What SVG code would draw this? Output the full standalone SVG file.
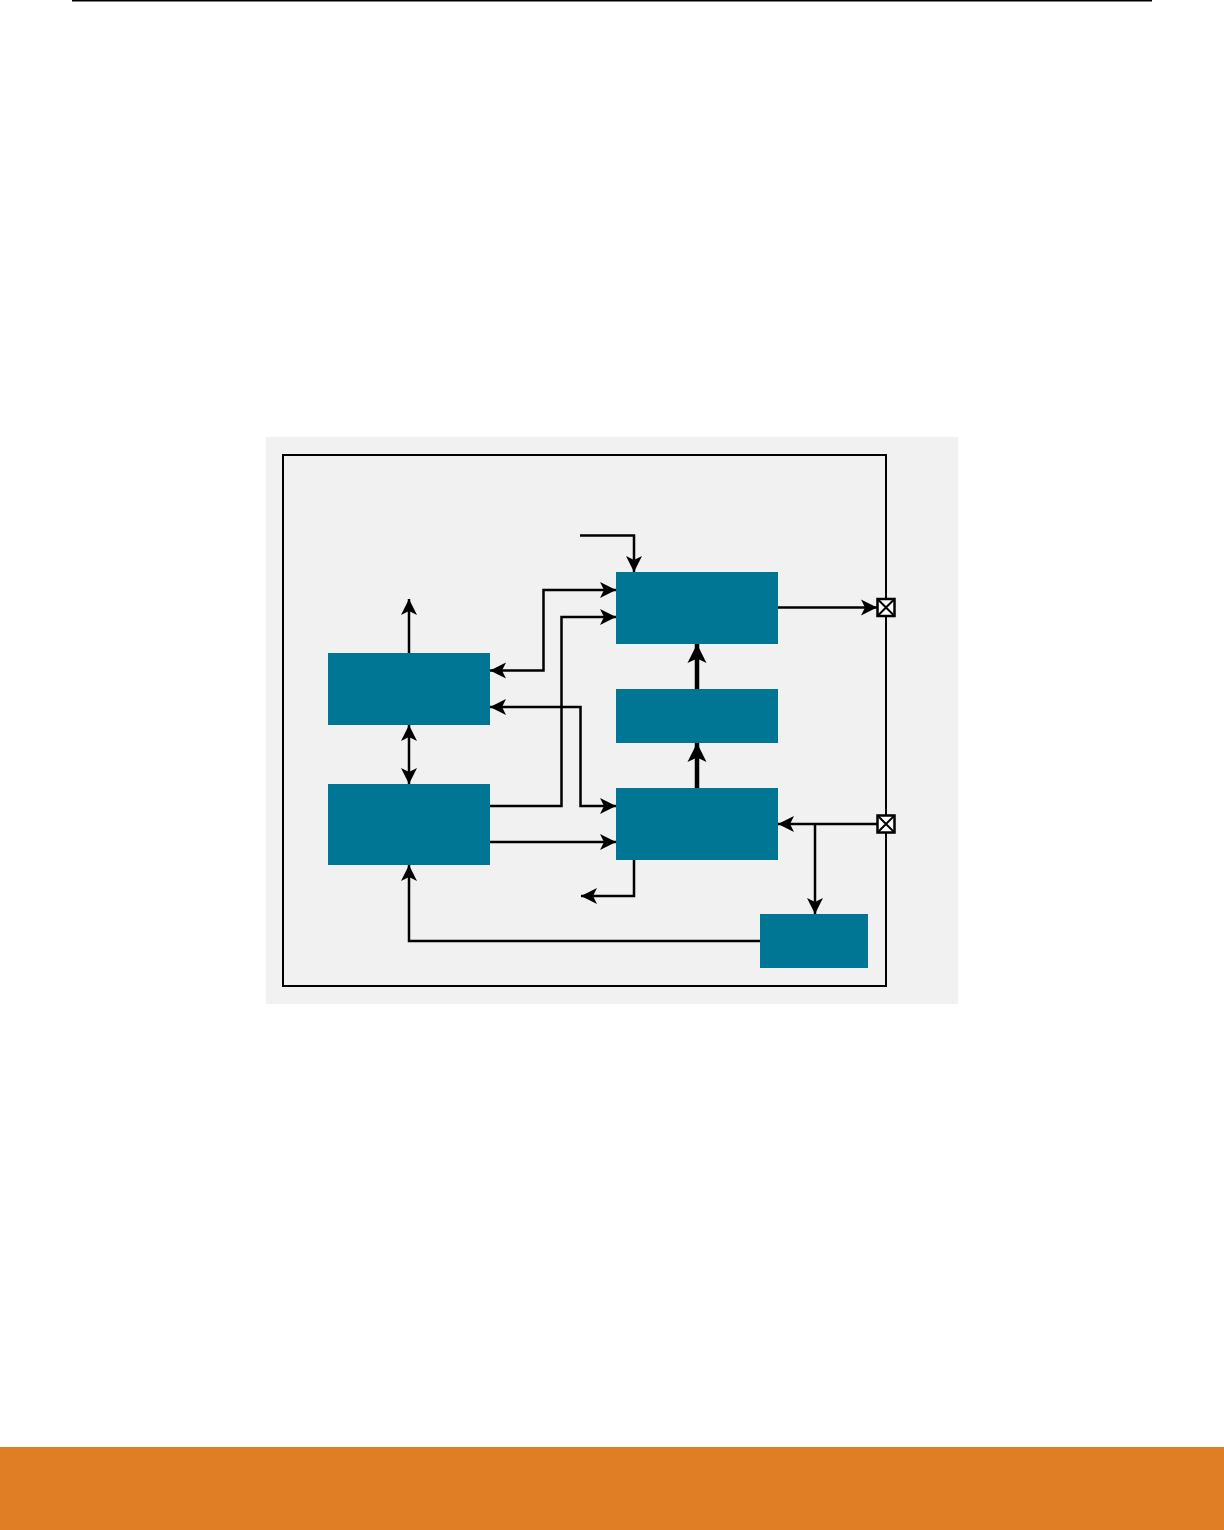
<svg xmlns="http://www.w3.org/2000/svg" width="1224" height="1530" viewBox="0 0 1224 1530">
<style>
.node{fill:#007694}
.ln{fill:none;stroke:#000;stroke-width:2.5}
.thick{fill:none;stroke:#000;stroke-width:4.5}
.frame{fill:none;stroke:#000;stroke-width:2}
.port{fill:#fff;stroke:#000;stroke-width:2.5}
.x{fill:none;stroke:#000;stroke-width:2}
</style>
<defs>
<marker id="ah" markerUnits="userSpaceOnUse" markerWidth="17" markerHeight="17" refX="16" refY="8.5" orient="auto-start-reverse" viewBox="0 0 17 17">
<path d="M0,0.5 L16,8.5 L0,16.5 L4,8.5 z" fill="#000"/>
</marker>
<marker id="ahb" markerUnits="userSpaceOnUse" markerWidth="20" markerHeight="20" refX="19" refY="10" orient="auto" viewBox="0 0 20 20">
<path d="M0,0.5 L19,10 L0,19.5 L4.5,10 z" fill="#000"/>
</marker>
</defs>
<rect width="1224" height="1530" fill="#fff"/>
<line x1="72" y1="0.75" x2="1152" y2="0.75" stroke="#000" stroke-width="1.5"/>
<rect x="0" y="1447" width="1224" height="83" fill="#E07E26"/>
<rect x="266" y="437" width="692" height="567" fill="#F1F1F1"/>
<rect class="frame" x="283" y="455" width="603" height="531"/>
<g id="connectors">
<path class="ln" d="M580,535.5 H634 V572" marker-end="url(#ah)"/>
<path class="ln" d="M490,670.5 H543.5 V590 H616" marker-start="url(#ah)" marker-end="url(#ah)"/>
<path class="ln" d="M490,806 H561.5 V617 H616" marker-end="url(#ah)"/>
<path class="ln" d="M490,707 H580.5 V806 H616" marker-start="url(#ah)" marker-end="url(#ah)"/>
<path class="ln" d="M490,842 H616" marker-end="url(#ah)"/>
<path class="ln" d="M409,653 V599" marker-end="url(#ah)"/>
<path class="ln" d="M409,725 V784" marker-start="url(#ah)" marker-end="url(#ah)"/>
<path class="ln" d="M760,941 H409 V865" marker-end="url(#ah)"/>
<path class="ln" d="M778,607.5 H877" marker-end="url(#ah)"/>
<path class="ln" d="M877,824 H778" marker-end="url(#ah)"/>
<path class="ln" d="M815,824 V914" marker-end="url(#ah)"/>
<path class="ln" d="M634,860 V896 H581" marker-end="url(#ah)"/>
<path class="thick" d="M697,689 V644" marker-end="url(#ahb)"/>
<path class="thick" d="M697,788 V743" marker-end="url(#ahb)"/>
</g>
<g id="nodeA"><rect class="node" x="328" y="653" width="162" height="72"/></g>
<g id="nodeB"><rect class="node" x="328" y="784" width="162" height="81"/></g>
<g id="nodeC"><rect class="node" x="616" y="572" width="162" height="72"/></g>
<g id="nodeD"><rect class="node" x="616" y="689" width="162" height="54"/></g>
<g id="nodeE"><rect class="node" x="616" y="788" width="162" height="72"/></g>
<g id="nodeF"><rect class="node" x="760" y="914" width="108" height="54"/></g>
<g id="port1"><rect class="port" x="877.5" y="599" width="17" height="17"/><path class="x" d="M877.5,599 L894.5,616 M894.5,599 L877.5,616"/></g>
<g id="port2"><rect class="port" x="877.5" y="815.5" width="17" height="17"/><path class="x" d="M877.5,815.5 L894.5,832.5 M894.5,815.5 L877.5,832.5"/></g>
</svg>
